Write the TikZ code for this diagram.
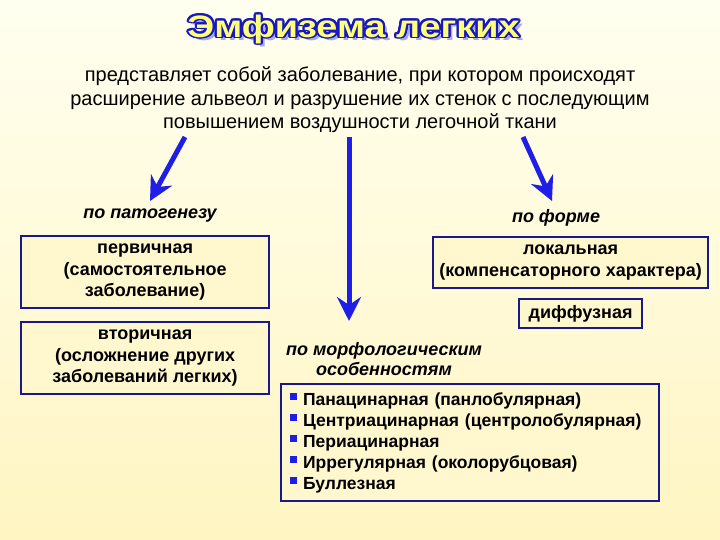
\documentclass[tikz,border=0pt]{standalone}
\usepackage{fontspec}
\setmainfont{Liberation Sans}
\usetikzlibrary{arrows.meta}
\definecolor{bgtop}{HTML}{FFFFF0}
\definecolor{bgbot}{HTML}{FFF5C2}
\definecolor{boxfill}{HTML}{FFF8CF}
\definecolor{boxdraw}{HTML}{1A1A86}
\definecolor{arrowblue}{HTML}{1E1EE6}
\definecolor{titleyellow}{HTML}{FFFF7A}
\definecolor{titleblue}{HTML}{1818C0}
\definecolor{titleshadow}{HTML}{A8A8E4}
\newcommand{\blt}{\hspace{2pt}\textcolor{arrowblue}{\rule[5pt]{7pt}{7pt}}\hspace{6pt}}
\newcommand{\ttltext}{Эмфизема легких}
\begin{document}
\begin{tikzpicture}[x=1pt,y=-1pt,
  boxstyle/.style={draw=boxdraw, line width=2.2pt, fill=boxfill, align=center,
    font=\bfseries\fontsize{18}{21.5}\selectfont, inner sep=0pt, anchor=north west},
  catlabel/.style={font=\bfseries\itshape\fontsize{18}{20}\selectfont, align=center},
  bigarrow/.style={draw=arrowblue, line width=5pt,
    -{Stealth[length=24pt,width=24pt,inset=8pt]}},
  ttlfont/.style={font=\bfseries\fontsize{31}{34}\selectfont, xscale=1.22}
  ]
\useasboundingbox (0,0) rectangle (720,540);
\fill[top color=bgtop, bottom color=bgbot] (0,0) rectangle (720,540);

% title
\node[ttlfont, text=titleshadow] at (357.5,32) {\ttltext};
\foreach \a in {0,22.5,...,337.5}
  \node[ttlfont, text=titleblue, shift={(\a:1.8pt)}] at (353.5,29) {\ttltext};
\node[ttlfont, text=titleyellow] (title) at (353.5,29) {\ttltext};

% subtitle
\node[align=center, font=\fontsize{20}{23.5}\selectfont] (def) at (360,100)
  {представляет собой заболевание, при котором происходят\\
   расширение альвеол и разрушение их стенок с последующим\\
   повышением воздушности легочной ткани};

% arrows
\coordinate (s1) at (185,137);
\coordinate (t1) at (150,201);
\coordinate (s2) at (349,137);
\coordinate (t2) at (349,321);
\coordinate (s3) at (523,137);
\coordinate (t3) at (552,201);
\draw[bigarrow] (s1) -- (t1);
\draw[bigarrow] (s2) -- (t2);
\draw[bigarrow] (s3) -- (t3);

% labels
\node[catlabel] (patho) at (150,216) {по патогенезу};
\node[catlabel] (forma) at (556,218) {по форме};
\node[catlabel] (morph) at (384,359) {по морфологическим\\особенностям};

% left boxes
\node[boxstyle, minimum width=248pt, minimum height=72pt] (prim) at (20,235)
  {первичная\\(самостоятельное\\заболевание)};
\node[boxstyle, minimum width=248pt, minimum height=72pt] (sec) at (20,321)
  {вторичная\\(осложнение других\\заболеваний легких)};

% right boxes
\node[boxstyle, minimum width=275pt, minimum height=51pt] (loc) at (432,236)
  {локальная\\(компенсаторного характера)};
\node[boxstyle, minimum width=123pt, minimum height=29pt] (diff) at (518,298)
  {диффузная};

% bottom box
\node[boxstyle, minimum width=378pt, minimum height=117pt, align=left,
  text width=364pt, font=\bfseries\fontsize{17.5}{21}\selectfont] (list) at (280,383)
  {\blt Панацинарная (панлобулярная)\\
   \blt Центриацинарная (центролобулярная)\\
   \blt Периацинарная\\
   \blt Иррегулярная (околорубцовая)\\
   \blt Буллезная};
\end{tikzpicture}
\end{document}
